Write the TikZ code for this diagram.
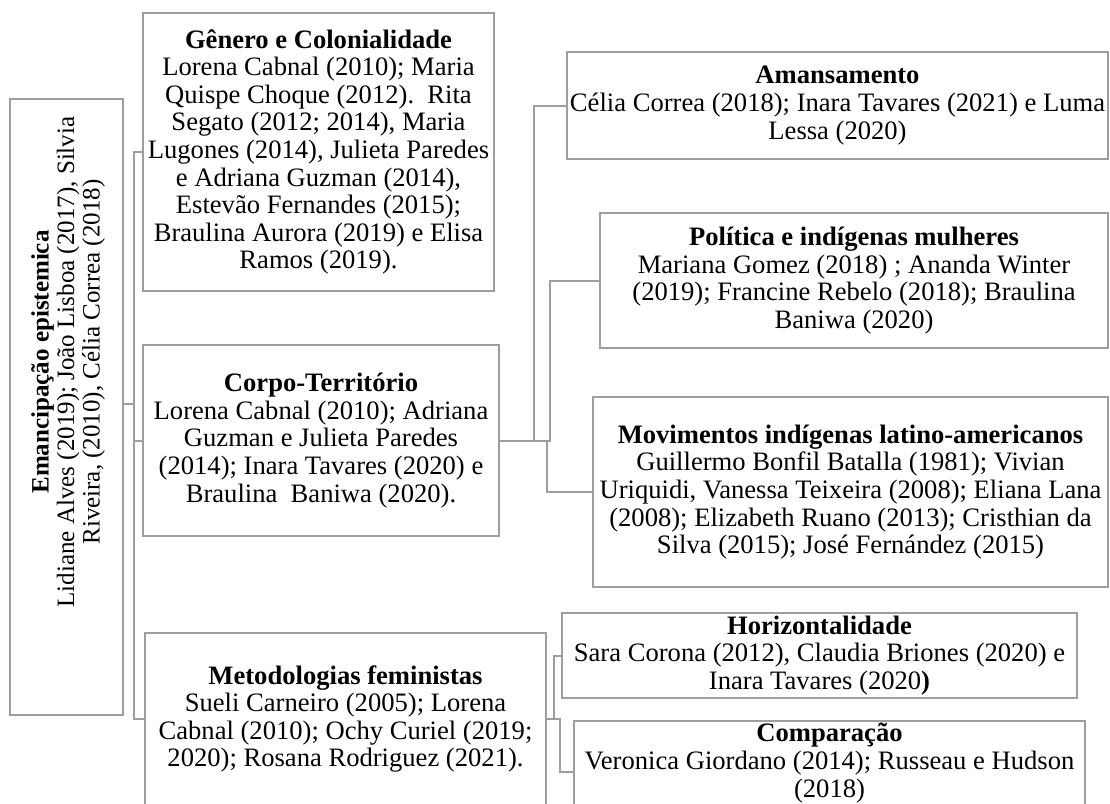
\documentclass[tikz,border=0pt]{standalone}
\usepackage{fontspec}
\setmainfont{Liberation Serif}
\usepackage{graphicx}
\definecolor{linegray}{RGB}{158,158,158}
\begin{document}
\begin{tikzpicture}[x=1pt,y=-1pt,
  box/.style={draw=linegray, line width=2pt, align=center, inner sep=0pt,
    font=\fontsize{26.6}{27.6}\selectfont, text=black},
  conn/.style={draw=linegray, line width=2pt}]
\clip (0,0) rectangle (1110,803);
\fill[white] (0,0) rectangle (1110,803);

% root
\node[box, minimum width=113, minimum height=616] (root) at (66.5,407) {};
\node[inner sep=0pt, font=\fontsize{25}{25.5}\selectfont, rotate=90, align=center] (roottext) at (68,362)
  {\textbf{Emancipação epistemica}\\Lidiane Alves (2019); João Lisboa (2017), Silvia\\Riveira, (2010), Célia Correa (2018)};

% level 1
\node[box, minimum width=351, minimum height=278] (gen) at (318.5,152)
  {\textbf{Gênero e Colonialidade}\\Lorena Cabnal (2010); Maria\\Quispe Choque (2012).\ \ Rita\\Segato (2012; 2014), Maria\\Lugones (2014), Julieta Paredes\\e Adriana Guzman (2014),\\Estevão Fernandes (2015);\\Braulina Aurora (2019) e Elisa\\Ramos (2019).};
\node[box, minimum width=356, minimum height=191] (corpo) at (321,440.5)
  {\textbf{Corpo-Território}\\Lorena Cabnal (2010); Adriana\\Guzman e Julieta Paredes\\(2014); Inara Tavares (2020) e\\Braulina\ \ Baniwa (2020).};
\node[box, minimum width=401, minimum height=172] (meto) at (345.5,719)
  {\textbf{Metodologias feministas}\\Sueli Carneiro (2005); Lorena\\Cabnal (2010); Ochy Curiel (2019;\\2020); Rosana Rodriguez (2021).};

% level 2 (Corpo)
\node[box, minimum width=541, minimum height=107] (aman) at (837.5,105.5)
  {\textbf{Amansamento}\\Célia Correa (2018); Inara Tavares (2021) e Luma\\Lessa (2020)};
\node[box, minimum width=508, minimum height=135] (pol) at (854,280.5)
  {\textbf{Política e indígenas mulheres}\\Mariana Gomez (2018) ; Ananda Winter\\(2019); Francine Rebelo (2018); Braulina\\Baniwa (2020)};
\node[box, minimum width=515, minimum height=190] (mov) at (850.5,492)
  {\textbf{Movimentos indígenas latino-americanos}\\Guillermo Bonfil Batalla (1981); Vivian\\Uriquidi, Vanessa Teixeira (2008); Eliana Lana\\(2008); Elizabeth Ruano (2013); Cristhian da\\Silva (2015); José Fernández (2015)};

% level 2 (Metodologias)
\node[box, minimum width=515, minimum height=85] (hor) at (819.5,655.5)
  {\textbf{Horizontalidade}\\Sara Corona (2012), Claudia Briones (2020) e\\Inara Tavares (2020\textbf{)}};
\node[box, minimum width=511, minimum height=84] (comp) at (829.5,763)
  {\textbf{Comparação}\\Veronica Giordano (2014); Russeau e Hudson\\(2018)};

% connectors
\coordinate (bus) at (134,404);
\draw[conn] (root.east |- bus) -- (bus);
\draw[conn] (bus) |- (gen.west);
\draw[conn] (bus) |- (corpo.west);
\draw[conn] (bus) |- (meto.west);

\draw[conn] (corpo.east) -- ++(34,0) |- (aman.west);
\draw[conn] (corpo.east) -- ++(50,0) |- (pol.west);
\draw[conn] (corpo.east) -- ++(47,0) |- (mov.west);

\draw[conn] (meto.east) -- ++(7,0) |- (hor.west);
\draw[conn] (meto.east) -- ++(13,0) |- ([yshift=-9pt]comp.west);
\end{tikzpicture}
\end{document}
